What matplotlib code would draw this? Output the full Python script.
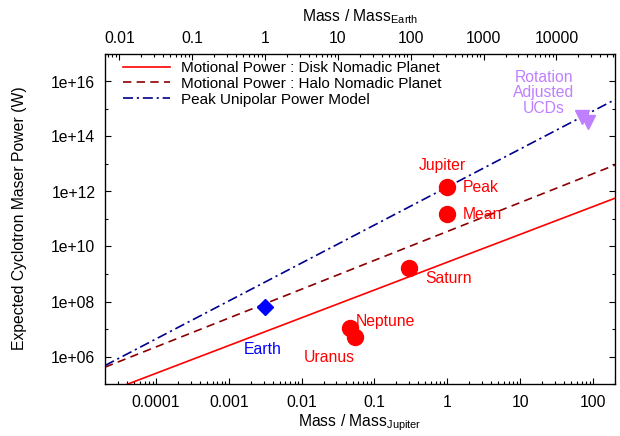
import matplotlib
matplotlib.use("Agg")
import matplotlib.pyplot as plt
from matplotlib.ticker import FixedLocator, FixedFormatter, LogLocator, NullFormatter

plt.rcParams['font.family'] = ['Liberation Sans', 'DejaVu Sans']
plt.rcParams['mathtext.fontset'] = 'custom'
plt.rcParams['mathtext.rm'] = 'Liberation Sans'

EARTH_PER_JUPITER = 317.8

# Mass range in Jupiter masses, and the power of each scaling model at its ends (W)
mass_ends = [2e-5, 200.0]
disk_power = [4.8e4, 5.7e11]
halo_power = [4.1e5, 9.2e12]
peak_power = [4.7e5, 2.2e15]

# Solar-system giants (Jupiter masses, W)
planet_mass = [1.0, 1.0, 0.299, 0.0457, 0.0540]
planet_power = [1.45e12, 1.5e11, 1.7e9, 1.07e7, 5.0e6]

earth_mass = [1.0 / EARTH_PER_JUPITER]
earth_power = [6.5e7]

# Rotation adjusted ultracool dwarfs
ucd_mass = [70.0, 85.0]
ucd_power = [5.0e14, 3.5e14]

power_range = [1e5, 1e17]
power_ticks = [1e6, 1e8, 1e10, 1e12, 1e14, 1e16]
power_minor = [1e5, 1e7, 1e9, 1e11, 1e13, 1e15, 1e17]
power_labels = ["1e+06", "1e+08", "1e+10", "1e+12", "1e+14", "1e+16"]

jup_ticks = [1e-4, 1e-3, 1e-2, 1e-1, 1, 10, 100]
jup_labels = ["0.0001", "0.001", "0.01", "0.1", "1", "10", "100"]
earth_ticks = [0.01, 0.1, 1, 10, 100, 1000, 10000]
earth_labels = ["0.01", "0.1", "1", "10", "100", "1000", "10000"]

RED = "#ff0000"
DARK_RED = "#8b0000"
DARK_BLUE = "#00008b"
BLUE = "#0000ff"
PURPLE = "#bf80ff"
FS = 11.3
LEG_FS = 11.0

fig = plt.figure(figsize=(6.2, 4.36), dpi=100)
ax = fig.add_axes([105 / 620, 1 - 384 / 436, 510 / 620, 330 / 436])
ax.set_xscale("log")
ax.set_yscale("log")
ax.set_xlim(mass_ends)
ax.set_ylim(power_range)

ax.plot(mass_ends, disk_power, color=RED, lw=1.2,
        label="Motional Power : Disk Nomadic Planet")
ax.plot(mass_ends, halo_power, color=DARK_RED, lw=1.2, dashes=(5, 3.2),
        label="Motional Power : Halo Nomadic Planet")
ax.plot(mass_ends, peak_power, color=DARK_BLUE, lw=1.2, dashes=(6, 2.3, 1.3, 2.3),
        label="Peak Unipolar Power Model")

ax.plot(planet_mass, planet_power, "o", color=RED, ms=11.5, mec=RED, zorder=5)
ax.plot(earth_mass, earth_power, "D", color=BLUE, ms=8, mec=BLUE, zorder=5)
ax.plot(ucd_mass, ucd_power, "v", color=PURPLE, ms=9.5, mec=PURPLE, zorder=5)

# annotations
ax.text(0.86, 9.1e12, "Jupiter", color=RED, fontsize=FS, ha="center", va="center")
ax.text(1.64, 1.38e12, "Peak", color=RED, fontsize=FS, ha="left", va="center")
ax.text(1.64, 1.48e11, "Mean", color=RED, fontsize=FS, ha="left", va="center")
ax.text(0.493, 6.9e8, "Saturn", color=RED, fontsize=FS, ha="left", va="center")
ax.text(0.0557, 1.8e7, "Neptune", color=RED, fontsize=FS, ha="left", va="center")
ax.text(0.0237, 9.3e5, "Uranus", color=RED, fontsize=FS, ha="center", va="center")
ax.text(0.0029, 1.8e6, "Earth", color=BLUE, fontsize=FS, ha="center", va="center")
ax.text(21.2, 3.9e15, "Rotation\nAdjusted\nUCDs", color=PURPLE, fontsize=FS,
        ha="center", va="center", linespacing=1.06)

# axes, ticks
for s in ax.spines.values():
    s.set_linewidth(0.9)
ax.xaxis.set_major_locator(FixedLocator(jup_ticks))
ax.xaxis.set_major_formatter(FixedFormatter(jup_labels))
ax.xaxis.set_minor_locator(LogLocator(base=10, subs=range(2, 10), numticks=30))
ax.xaxis.set_minor_formatter(NullFormatter())
ax.yaxis.set_major_locator(FixedLocator(power_ticks))
ax.yaxis.set_major_formatter(FixedFormatter(power_labels))
ax.yaxis.set_minor_locator(FixedLocator(power_minor))
ax.yaxis.set_minor_formatter(NullFormatter())
ax.tick_params(which="both", direction="in", top=False, right=True,
               labelsize=FS, width=0.8)
ax.tick_params(which="major", length=4.5)
ax.tick_params(which="minor", length=2.5)
ax.tick_params(axis="y", pad=7)
ax.tick_params(axis="x", pad=8)

top = ax.twiny()
top.set_xscale("log")
top.set_xlim(mass_ends[0] * EARTH_PER_JUPITER, mass_ends[1] * EARTH_PER_JUPITER)
top.xaxis.set_major_locator(FixedLocator(earth_ticks))
top.xaxis.set_major_formatter(FixedFormatter(earth_labels))
top.xaxis.set_minor_locator(LogLocator(base=10, subs=range(2, 10), numticks=30))
top.xaxis.set_minor_formatter(NullFormatter())
top.tick_params(which="both", direction="in", labelsize=FS, width=0.8, pad=6)
top.tick_params(which="major", length=4.5)
top.tick_params(which="minor", length=2.5)

ax.set_xlabel(r"Mass / Mass$_{\mathregular{Jupiter}}$", fontsize=FS, labelpad=2)
top.set_xlabel(r"Mass / Mass$_{\mathregular{Earth}}$", fontsize=FS, labelpad=7)
fig.text(20 / 620, 1 - 218 / 436, "Expected Cyclotron Maser Power (W)", rotation=90,
         fontsize=FS, ha="center", va="center")

ax.legend(loc="upper left", bbox_to_anchor=(18 / 510, 1 - 7 / 330), frameon=False,
          fontsize=LEG_FS, handlelength=3.1, handletextpad=0.7, labelspacing=0.12,
          borderaxespad=0, borderpad=0)

fig.savefig("out.png", dpi=100)
